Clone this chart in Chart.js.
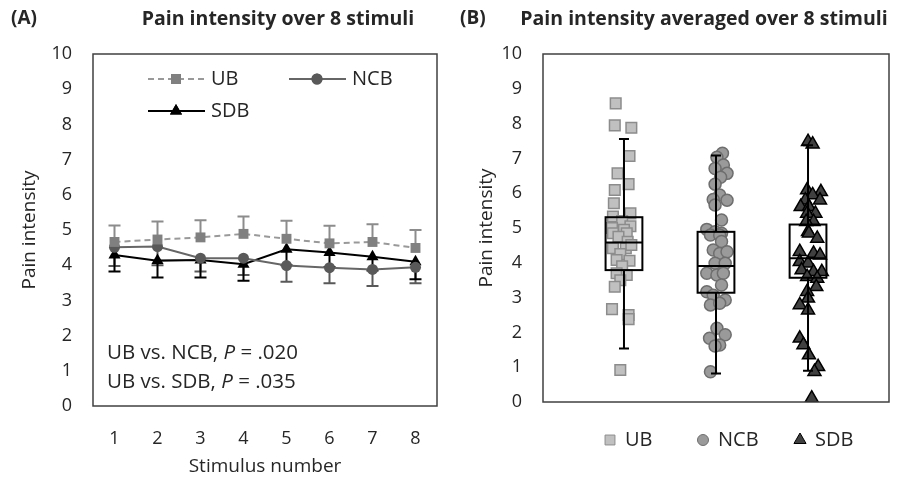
<!DOCTYPE html>
<html>
<head>
<meta charset="utf-8">
<script src="https://cdn.jsdelivr.net/npm/chart.js@4/dist/chart.umd.min.js"></script>
<style>
  body { margin: 0; background: #fff; }
  #wrap { position: relative; width: 902px; height: 483px; }
  #wrap canvas { position: absolute; top: 0; }
</style>
</head>
<body>
<div id="wrap">
  <canvas id="lineChart" width="451" height="483" style="left:0"></canvas>
  <canvas id="boxChart" width="451" height="483" style="left:451px"></canvas>
</div>
<script>
// ---- data: panel A, mean pain per stimulus ----
const stimuli = ['1', '2', '3', '4', '5', '6', '7', '8'];
const ubMean = [4.66, 4.73, 4.79, 4.89, 4.75, 4.62, 4.66, 4.49];
const ncbMean = [4.51, 4.53, 4.20, 4.20, 3.99, 3.93, 3.88, 3.94];
const sdbMean = [4.29, 4.13, 4.15, 4.03, 4.45, 4.36, 4.24, 4.10];
// error bar ends (UB drawn upward, NCB and SDB downward)
const ubUpper = [5.13, 5.24, 5.28, 5.38, 5.26, 5.12, 5.16, 5.00];
const ncbLower = [3.98, 4.00, 3.82, 3.72, 3.53, 3.49, 3.41, 3.49];
const sdbLower = [3.82, 3.65, 3.65, 3.56, 4.00, 3.95, 3.85, 3.60];
const yTicks = [0, 1, 2, 3, 4, 5, 6, 7, 8, 9, 10];

// ---- data: panel B, individual averages (x = jittered group position) ----
const groups = ['UB', 'NCB', 'SDB'];
const ubX = [0.91, 0.90, 1.08, 1.06, 0.93, 1.05, 0.90, 0.89, 1.07, 0.88, 0.98, 1.07, 0.87, 1.00, 0.88, 1.03, 0.94, 1.04, 0.88, 1.02, 1.08, 0.96, 0.92, 1.06, 0.98, 0.92, 1.03, 0.96, 0.90, 0.87, 1.05, 1.05, 0.96];
const ubY = [8.58, 7.95, 7.88, 7.07, 6.57, 6.26, 6.09, 5.71, 5.42, 5.33, 5.20, 5.05, 5.00, 4.95, 4.85, 4.85, 4.75, 4.60, 4.42, 4.42, 4.51, 4.25, 4.08, 4.06, 3.90, 3.70, 3.65, 3.50, 3.31, 2.67, 2.50, 2.38, 0.92];
const ncbX = [2.07, 2.01, 2.08, 1.99, 2.12, 2.05, 1.99, 2.04, 1.97, 2.12, 1.99, 2.06, 1.90, 1.99, 2.06, 1.94, 2.04, 2.06, 1.97, 2.04, 2.12, 1.99, 2.10, 1.90, 2.01, 2.08, 2.06, 1.90, 1.97, 2.10, 1.94, 2.04, 2.01, 2.10, 1.93, 2.04, 1.99, 1.94];
const ncbY = [7.15, 7.03, 6.81, 6.71, 6.57, 6.46, 6.26, 5.95, 5.82, 5.80, 5.66, 5.23, 4.96, 4.89, 4.85, 4.80, 4.80, 4.61, 4.37, 4.27, 4.32, 3.99, 3.99, 3.70, 3.65, 3.70, 3.36, 3.17, 3.07, 2.93, 2.79, 2.84, 2.12, 1.93, 1.83, 1.64, 1.61, 0.87];
const sdbX = [3.00, 3.05, 2.99, 3.14, 3.05, 3.13, 2.97, 2.92, 3.01, 3.08, 2.99, 3.06, 2.98, 3.00, 3.01, 3.10, 2.91, 3.06, 3.13, 2.91, 3.00, 2.93, 3.06, 3.15, 2.99, 3.10, 3.09, 2.99, 3.00, 2.91, 3.00, 2.91, 2.95, 3.01, 3.11, 3.07, 3.04];
const sdbY = [7.48, 7.41, 6.09, 6.04, 5.95, 5.80, 5.80, 5.61, 5.61, 5.42, 5.42, 5.18, 5.18, 4.89, 4.85, 4.70, 4.32, 4.27, 4.22, 4.03, 3.99, 3.79, 3.74, 3.74, 3.60, 3.55, 3.31, 3.17, 2.98, 2.79, 2.64, 1.83, 1.64, 1.35, 1.01, 0.87, 0.11];
// box plot summaries per group
const boxMin = [1.54, 0.82, 0.90];
const boxQ1 = [3.79, 3.14, 3.57];
const boxMedian = [4.58, 3.91, 4.13];
const boxQ3 = [5.31, 4.89, 5.10];
const boxMax = [7.56, 7.08, 7.38];

const FONT = "'Open Sans', sans-serif";
const TEXT = '#262626';

// shared y axis setup
function yAxis(width) {
  return {
    min: 0, max: 10,
    afterBuildTicks: s => { s.ticks = yTicks.map(v => ({ value: v })); },
    afterFit: s => { s.width = width; },
    grid: { display: false, drawTicks: false },
    border: { display: false },
    ticks: { padding: 21, color: TEXT, font: { family: FONT, size: 18 } }
  };
}

// frame round the plot area + free text (text may be a list of styled pieces)
const framePlugin = {
  id: 'frame',
  afterDraw(chart, args, opts) {
    const { ctx, chartArea: a } = chart;
    ctx.save();
    ctx.strokeStyle = '#404040';
    ctx.lineWidth = 1.5;
    ctx.strokeRect(a.left, a.top, a.right - a.left, a.bottom - a.top);
    ctx.fillStyle = TEXT;
    ctx.textBaseline = 'middle';
    (opts.texts || []).forEach(t => {
      ctx.save();
      ctx.translate(t.x, t.y);
      if (t.rot) ctx.rotate(t.rot);
      if (Array.isArray(t.text)) {
        let cx = 0;
        ctx.textAlign = 'left';
        t.text.forEach(p => {
          ctx.font = (p.italic ? 'italic ' : '') + t.font;
          ctx.fillText(p.s, cx, 0);
          cx += ctx.measureText(p.s).width;
        });
      } else {
        ctx.font = t.font;
        ctx.textAlign = t.align || 'left';
        ctx.fillText(t.text, 0, 0);
      }
      ctx.restore();
    });
    ctx.restore();
  }
};

// ---- panel A ----
const errorBars = [
  { ds: 0, ends: ubUpper, color: '#8c8c8c' },
  { ds: 1, ends: ncbLower, color: '#595959' },
  { ds: 2, ends: sdbLower, color: '#000000' }
];

const errorPlugin = {
  id: 'errors',
  beforeDatasetsDraw(chart) {
    const { ctx, scales: { x, y } } = chart;
    ctx.save();
    ctx.lineWidth = 2;
    errorBars.forEach(eb => {
      const means = chart.data.datasets[eb.ds].data;
      ctx.strokeStyle = eb.color;
      eb.ends.forEach((end, i) => {
        const px = x.getPixelForValue(i);
        const y0 = y.getPixelForValue(means[i]);
        const y1 = y.getPixelForValue(end);
        ctx.beginPath();
        ctx.moveTo(px, y0); ctx.lineTo(px, y1);
        ctx.moveTo(px - 6, y1); ctx.lineTo(px + 6, y1);
        ctx.stroke();
      });
    });
    ctx.restore();
  }
};

const legendA = {
  id: 'legendA',
  afterDraw(chart) {
    const ctx = chart.ctx;
    const items = [
      { label: 'UB', x: 148, y: 79, color: '#999999', mark: '#808080', style: 'rect', r: 7, dash: [6, 4] },
      { label: 'NCB', x: 289, y: 79, color: '#666666', mark: '#595959', style: 'circle', r: 5.5, dash: [] },
      { label: 'SDB', x: 148, y: 111, color: '#000000', mark: '#000000', style: 'triangle', r: 7, dash: [] }
    ];
    ctx.save();
    items.forEach(it => {
      ctx.strokeStyle = it.color;
      ctx.lineWidth = 2;
      ctx.setLineDash(it.dash);
      ctx.beginPath(); ctx.moveTo(it.x, it.y); ctx.lineTo(it.x + 57, it.y); ctx.stroke();
      ctx.setLineDash([]);
      ctx.fillStyle = it.mark;
      Chart.helpers.drawPoint(ctx, { pointStyle: it.style, radius: it.r, borderWidth: 0 }, it.x + 28, it.y);
      ctx.fill();
      ctx.fillStyle = TEXT;
      ctx.font = '20px ' + FONT;
      ctx.textBaseline = 'middle';
      ctx.fillText(it.label, it.x + 63, it.y);
    });
    ctx.restore();
  }
};

new Chart(document.getElementById('lineChart'), {
  type: 'line',
  data: {
    labels: stimuli,
    datasets: [
      { label: 'UB', data: ubMean, borderColor: '#999999', borderDash: [6, 4], borderWidth: 2,
        pointStyle: 'rect', pointRadius: 7, pointBackgroundColor: '#808080', pointBorderWidth: 0 },
      { label: 'NCB', data: ncbMean, borderColor: '#666666', borderWidth: 2,
        pointStyle: 'circle', pointRadius: 5.5, pointBackgroundColor: '#595959', pointBorderWidth: 0 },
      { label: 'SDB', data: sdbMean, borderColor: '#000000', borderWidth: 2,
        pointStyle: 'triangle', pointRadius: 7, pointBackgroundColor: '#000000', pointBorderWidth: 0 }
    ]
  },
  options: {
    responsive: false,
    animation: false,
    devicePixelRatio: 1,
    layout: { padding: { left: 0, right: 14, top: 54, bottom: 0 } },
    scales: {
      x: {
        offset: true,
        afterFit: s => { s.height = 77; },
        grid: { display: false, drawTicks: false },
        border: { display: false },
        ticks: { padding: 22, color: TEXT, font: { family: FONT, size: 18 } }
      },
      y: yAxis(93)
    },
    plugins: {
      legend: { display: false },
      tooltip: { enabled: false },
      frame: {
        texts: [
          { text: '(A)', x: 11, y: 19, font: 'bold 19px ' + FONT },
          { text: 'Pain intensity over 8 stimuli', x: 278, y: 19, align: 'center', font: 'bold 19.5px ' + FONT },
          { text: 'Pain intensity', x: 30, y: 230, rot: -Math.PI / 2, align: 'center', font: '19px ' + FONT },
          { text: 'Stimulus number', x: 265, y: 467, align: 'center', font: '19px ' + FONT },
          { text: [{ s: 'UB vs. NCB, ' }, { s: 'P', italic: true }, { s: ' = .020' }], x: 107, y: 353, font: '20.5px ' + FONT },
          { text: [{ s: 'UB vs. SDB, ' }, { s: 'P', italic: true }, { s: ' = .035' }], x: 107, y: 382, font: '20.5px ' + FONT }
        ]
      }
    }
  },
  plugins: [errorPlugin, framePlugin, legendA]
});

// ---- panel B ----
const boxPlugin = {
  id: 'boxes',
  afterDatasetsDraw(chart) {
    const { ctx, scales: { x, y } } = chart;
    ctx.save();
    ctx.strokeStyle = '#000000';
    ctx.lineWidth = 2;
    groups.forEach((g, i) => {
      const cx = x.getPixelForValue(i + 1);
      const l = x.getPixelForValue(i + 0.8), r = x.getPixelForValue(i + 1.2);
      const q1 = y.getPixelForValue(boxQ1[i]), q3 = y.getPixelForValue(boxQ3[i]);
      const med = y.getPixelForValue(boxMedian[i]);
      const lo = y.getPixelForValue(boxMin[i]), hi = y.getPixelForValue(boxMax[i]);
      ctx.beginPath();
      ctx.moveTo(cx, hi); ctx.lineTo(cx, q3);
      ctx.moveTo(cx, q1); ctx.lineTo(cx, lo);
      ctx.moveTo(cx - 5, hi); ctx.lineTo(cx + 5, hi);
      ctx.moveTo(cx - 5, lo); ctx.lineTo(cx + 5, lo);
      ctx.moveTo(l, med); ctx.lineTo(r, med);
      ctx.stroke();
      ctx.strokeRect(l, q3, r - l, q1 - q3);
    });
    ctx.restore();
  }
};

const legendB = {
  id: 'legendB',
  afterDraw(chart) {
    const ctx = chart.ctx;
    const items = [
      { label: 'UB', x: 159, style: 'rect', r: 7, fill: '#c0c0c0', line: '#8c8c8c' },
      { label: 'NCB', x: 252, style: 'circle', r: 5.5, fill: '#9a9a9a', line: '#6e6e6e' },
      { label: 'SDB', x: 349, style: 'triangle', r: 7, fill: '#404040', line: '#000000' }
    ];
    ctx.save();
    items.forEach(it => {
      ctx.fillStyle = it.fill;
      ctx.strokeStyle = it.line;
      ctx.lineWidth = 1;
      Chart.helpers.drawPoint(ctx, { pointStyle: it.style, radius: it.r, borderWidth: 1 }, it.x, 440);
      ctx.fillStyle = TEXT;
      ctx.font = '20px ' + FONT;
      ctx.textBaseline = 'middle';
      ctx.fillText(it.label, it.x + 15, 440);
    });
    ctx.restore();
  }
};

const pts = (xs, ys) => xs.map((v, i) => ({ x: v, y: ys[i] }));

new Chart(document.getElementById('boxChart'), {
  type: 'scatter',
  data: {
    datasets: [
      { label: 'UB', data: pts(ubX, ubY), pointStyle: 'rect', pointRadius: 7.5,
        backgroundColor: '#c0c0c0', borderColor: '#8c8c8c', borderWidth: 1.5 },
      { label: 'NCB', data: pts(ncbX, ncbY), pointStyle: 'circle', pointRadius: 6,
        backgroundColor: '#9a9a9a', borderColor: '#6e6e6e', borderWidth: 1.5 },
      { label: 'SDB', data: pts(sdbX, sdbY), pointStyle: 'triangle', pointRadius: 7.5,
        backgroundColor: '#404040', borderColor: '#000000', borderWidth: 1.5 }
    ]
  },
  options: {
    responsive: false,
    animation: false,
    devicePixelRatio: 1,
    layout: { padding: { left: 0, right: 13, top: 54, bottom: 0 } },
    scales: {
      x: {
        type: 'linear', min: 0.12, max: 3.88,
        afterFit: s => { s.height = 81; },
        grid: { display: false, drawTicks: false },
        border: { display: false },
        ticks: { display: false }
      },
      y: yAxis(92)
    },
    plugins: {
      legend: { display: false },
      tooltip: { enabled: false },
      frame: {
        texts: [
          { text: '(B)', x: 9, y: 19, font: 'bold 19px ' + FONT },
          { text: 'Pain intensity averaged over 8 stimuli', x: 253, y: 19, align: 'center', font: 'bold 19.5px ' + FONT },
          { text: 'Pain intensity', x: 36, y: 228, rot: -Math.PI / 2, align: 'center', font: '19px ' + FONT }
        ]
      }
    }
  },
  plugins: [boxPlugin, framePlugin, legendB]
});
</script>
</body>
</html>
